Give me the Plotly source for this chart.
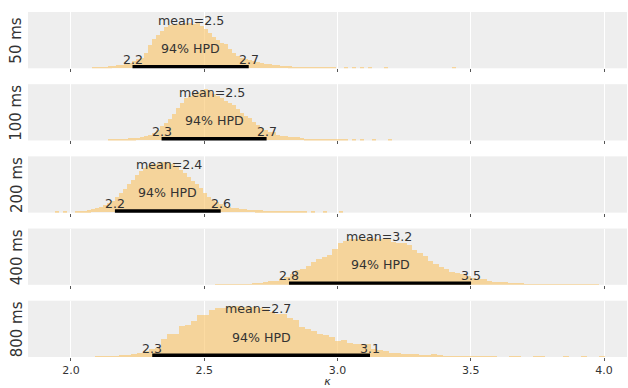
import numpy as np
import plotly.graph_objects as go
from plotly.subplots import make_subplots

# Posterior draws of kappa, binned, one histogram per stimulus duration
panel_labels = ["50 ms", "100 ms", "200 ms", "400 ms", "800 ms"]
bin_start = [2.08, 2.14, 1.94, 2.54, 2.09]
bin_width = [0.015, 0.015, 0.015, 0.02, 0.0225]

counts_50 = [13, 13, 15, 15, 20, 25, 30, 35, 40, 50,
             70, 90, 100, 150, 240, 300, 340, 380, 420, 440,
             440, 445, 450, 455, 460, 450, 455, 430, 400, 360,
             320, 290, 260, 250, 200, 150, 125, 105, 95, 80,
             70, 60, 50, 45, 40, 33, 30, 27, 23, 20,
             18, 17, 15, 13, 12, 10, 10, 10, 8, 8,
             7, 0, 0, 7, 0, 7, 0, 7, 0, 7,
             0, 0, 0, 7, 0, 0, 0, 0, 0, 0,
             0, 0, 0, 0, 0, 0, 0, 0, 0, 0, 7]
counts_100 = [7, 7, 10, 10, 15, 20, 20, 25, 35, 45,
              50, 70, 100, 140, 180, 220, 270, 330, 380, 425,
              447, 480, 490, 510, 515, 500, 470, 445, 430, 400,
              380, 360, 320, 280, 250, 230, 185, 150, 125, 100,
              85, 80, 55, 47, 45, 35, 30, 30, 27, 17,
              15, 13, 13, 13, 13, 12, 12, 10, 8, 7,
              0, 7, 0, 7, 0, 0, 7, 0, 0, 0, 7]
counts_200 = [7, 0, 7, 0, 0, 7, 10, 15, 20, 30,
              40, 55, 75, 90, 115, 150, 195, 240, 285, 330,
              380, 420, 450, 470, 485, 490, 505, 510, 505, 490,
              460, 430, 395, 355, 320, 285, 245, 200, 155, 120,
              100, 85, 65, 55, 45, 40, 35, 30, 27, 23,
              20, 20, 17, 15, 13, 12, 10, 10, 8, 8,
              7, 7, 7, 0, 7, 0, 0, 7, 0, 0, 0, 7]
counts_400 = [7, 7, 10, 10, 12, 13, 15, 20, 27, 30,
              40, 47, 60, 80, 110, 150, 170, 200, 240, 270,
              290, 310, 370, 430, 452, 465, 468, 470, 470, 475,
              470, 470, 465, 440, 430, 430, 410, 360, 330, 300,
              250, 215, 190, 165, 135, 120, 110, 90, 75, 65,
              60, 40, 37, 35, 30, 20, 20, 20, 15, 13,
              12, 10, 10, 8, 8, 7, 7, 7, 5, 5, 5, 5]
counts_800 = [7, 7, 13, 13, 23, 23, 37, 45, 63, 80,
              97, 190, 237, 237, 313, 323, 370, 430, 430, 480,
              497, 497, 517, 517, 510, 507, 507, 500, 490, 460,
              440, 440, 400, 380, 310, 290, 270, 237, 223, 210,
              170, 180, 147, 137, 137, 137, 80, 70, 63, 47,
              47, 35, 30, 30, 20, 20, 30, 20, 13, 10,
              7, 7, 7, 7, 7, 7, 13, 0, 0, 7,
              7, 0, 0, 7, 7, 0, 0, 0, 7, 0,
              0, 7, 0, 0, 7]
all_counts = [counts_50, counts_100, counts_200, counts_400, counts_800]

means = [2.452, 2.528, 2.368, 3.156, 2.703]
hpd_low = [2.231, 2.340, 2.165, 2.818, 2.305]
hpd_high = [2.667, 2.734, 2.562, 3.501, 3.122]
hpd_mass = 0.94
x_ticks = [2.0, 2.5, 3.0, 3.5, 4.0]

plot_height = 570  # upper y limit shared by every row
text_color = "#333333"
bar_color = "rgb(250,196,100)"
font_family = "DejaVu Sans"
label_size = 12.6

n_rows = len(panel_labels)
fig = make_subplots(rows=n_rows, cols=1, shared_xaxes=True,
                    vertical_spacing=16 / 348)

for i in range(n_rows):
    row = i + 1
    counts = np.array(all_counts[i], dtype=float)
    centers = bin_start[i] + bin_width[i] * (np.arange(len(counts)) + 0.5)
    fig.add_trace(go.Bar(x=centers, y=counts, width=bin_width[i],
                         marker=dict(color=bar_color, line=dict(width=0)),
                         opacity=0.6, showlegend=False, hoverinfo="skip"),
                  row=row, col=1)
    # HPD interval bar
    fig.add_trace(go.Scatter(x=[hpd_low[i], hpd_high[i]],
                             y=[plot_height * 0.02, plot_height * 0.02],
                             mode="lines", line=dict(color="black", width=4.6),
                             showlegend=False, hoverinfo="skip"),
                  row=row, col=1)

    xref = "x" if row == 1 else f"x{row}"
    yref = "y" if row == 1 else f"y{row}"
    common = dict(xref=xref, yref=yref, showarrow=False, yanchor="bottom",
                  xanchor="center",
                  font=dict(family=font_family, size=label_size, color=text_color))
    fig.add_annotation(x=means[i], y=plot_height * 0.8, yshift=-6.5,
                       text=f"mean={means[i]:.1f}", **common)
    fig.add_annotation(x=(hpd_low[i] + hpd_high[i]) / 2, y=plot_height * 0.3,
                       yshift=-6.5, text=f"{hpd_mass:.0%} HPD", **common)
    fig.add_annotation(x=hpd_low[i], y=plot_height * 0.07, yshift=-4.5,
                       text=f"{hpd_low[i]:.1f}", **common)
    fig.add_annotation(x=hpd_high[i], y=plot_height * 0.07, yshift=-4.5,
                       text=f"{hpd_high[i]:.1f}", **common)
    # row label on the left
    fig.add_annotation(x=-0.0192, y=0.5, xref="paper",
                       yref=f"{yref} domain", text=panel_labels[i],
                       textangle=-90, showarrow=False,
                       xanchor="center", yanchor="middle",
                       font=dict(family=font_family, size=15, color=text_color))

    fig.update_xaxes(range=[1.839, 4.086], tickvals=x_ticks,
                     tickformat=".1f", ticks="outside", ticklen=3,
                     tickcolor="#555555", tickwidth=1,
                     showgrid=True, gridcolor="white", gridwidth=1,
                     zeroline=False, showline=False,
                     showticklabels=(row == n_rows),
                     tickfont=dict(family=font_family, size=11, color=text_color),
                     row=row, col=1)
    fig.update_yaxes(range=[0, plot_height], showticklabels=False,
                     showgrid=False, zeroline=False, showline=False, ticks="",
                     row=row, col=1)

fig.update_xaxes(title=dict(text="κ", standoff=2,
                            font=dict(family=font_family, size=11,
                                      color=text_color, style="italic")),
                 row=n_rows, col=1)

fig.update_layout(width=628, height=388,
                  margin=dict(l=28, r=1, t=12, b=28),
                  plot_bgcolor="#eeeeee", paper_bgcolor="white",
                  bargap=0, font=dict(family=font_family, color=text_color))

fig.write_html("out.html")
